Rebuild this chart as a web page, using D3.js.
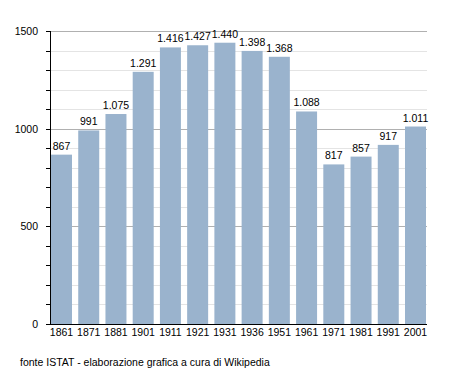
<!DOCTYPE html>
<html>
<head>
<meta charset="utf-8">
<script src="https://cdn.jsdelivr.net/npm/d3@7"></script>
<style>
  body { margin: 0; background: #fff; }
  text { font-family: "Liberation Sans", Arial, sans-serif; font-size: 10.5px; fill: #000; }
</style>
</head>
<body>
<div id="chartDiv"></div>
<script>
(function() {

	var years = ["1861", "1871", "1881", "1901", "1911", "1921", "1931", "1936", "1951", "1961", "1971", "1981", "1991", "2001"];
	var population = [867, 991, 1075, 1291, 1416, 1427, 1440, 1398, 1368, 1088, 817, 857, 917, 1011];
	var yTicks = [0, 500, 1000, 1500];
	var footer = "fonte ISTAT - elaborazione grafica a cura di Wikipedia";

	var width = 455;
	var height = 373;
	var plot = { left: 50, right: 426, top: 31, bottom: 324 };

	var svg = d3.select("#chartDiv").append("svg")
		.attr("width", width)
		.attr("height", height);

	var xScale = d3.scaleBand()
		.domain(years)
		.range([51, 426])
		.paddingInner(0.229)
		.paddingOuter(0);

	var yScale = d3.scaleLinear()
		.domain([0, 1500])
		.range([plot.bottom, plot.top]);

	// grid lines, light every 100, darker every 500
	var gridVals = d3.range(100, 1501, 100);
	svg.append("g").selectAll("line")
		.data(gridVals)
		.enter().append("line")
			.attr("x1", plot.left)
			.attr("x2", plot.right + 1)
			.attr("y1", function(d) { return Math.round(yScale(d)) + 0.5; })
			.attr("y2", function(d) { return Math.round(yScale(d)) + 0.5; })
			.attr("stroke", function(d) { return d % 500 === 0 ? "#b0b0b0" : "#e4e4e4"; })
			.attr("stroke-width", 1);

	// bars
	svg.append("g").selectAll("rect")
		.data(population)
		.enter().append("rect")
			.attr("x", function(d, i) { return xScale(years[i]); })
			.attr("width", xScale.bandwidth())
			.attr("y", function(d) { return yScale(d); })
			.attr("height", function(d) { return plot.bottom - yScale(d); })
			.attr("fill", "#9ab3cd");

	// value labels
	var fmt = function(v) { return d3.format(",")(v).replace(/,/g, "."); };
	svg.append("g").selectAll("text")
		.data(population)
		.enter().append("text")
			.attr("x", function(d, i) { return xScale(years[i]) + xScale.bandwidth() / 2; })
			.attr("y", function(d) { return yScale(d) - 5; })
			.attr("text-anchor", "middle")
			.text(fmt);

	// y axis
	var yAxis = d3.axisLeft(yScale)
		.tickValues(yTicks)
		.tickSize(0)
		.tickPadding(12)
		.tickFormat(d3.format("d"));

	var yAxisG = svg.append("g")
		.attr("transform", "translate(" + plot.left + ",0)")
		.call(yAxis);
	yAxisG.select(".domain").remove();
	yAxisG.selectAll("text").style("font-size", "10.5px").style("font-family", "Liberation Sans, Arial, sans-serif");

	// minor ticks
	svg.append("g").selectAll("line")
		.data(d3.range(0, 1501, 100))
		.enter().append("line")
			.attr("x1", plot.left - 4)
			.attr("x2", plot.left)
			.attr("y1", function(d) { return Math.round(yScale(d)) + 0.5; })
			.attr("y2", function(d) { return Math.round(yScale(d)) + 0.5; })
			.attr("stroke", "#000");

	svg.append("line")
		.attr("x1", plot.left + 0.5).attr("x2", plot.left + 0.5)
		.attr("y1", plot.top).attr("y2", plot.bottom + 1)
		.attr("stroke", "#000");

	// x axis
	var xAxis = d3.axisBottom(xScale)
		.tickSize(0)
		.tickPadding(5);

	var xAxisG = svg.append("g")
		.attr("transform", "translate(0," + plot.bottom + ")")
		.call(xAxis);
	xAxisG.select(".domain").remove();
	xAxisG.selectAll("text").style("font-size", "10.5px").style("font-family", "Liberation Sans, Arial, sans-serif");

	svg.append("line")
		.attr("x1", plot.left).attr("x2", plot.right + 1)
		.attr("y1", plot.bottom + 0.5).attr("y2", plot.bottom + 0.5)
		.attr("stroke", "#000");

	// footer
	svg.append("text")
		.attr("x", 20)
		.attr("y", 366)
		.text(footer);

})();
</script>
</body>
</html>
